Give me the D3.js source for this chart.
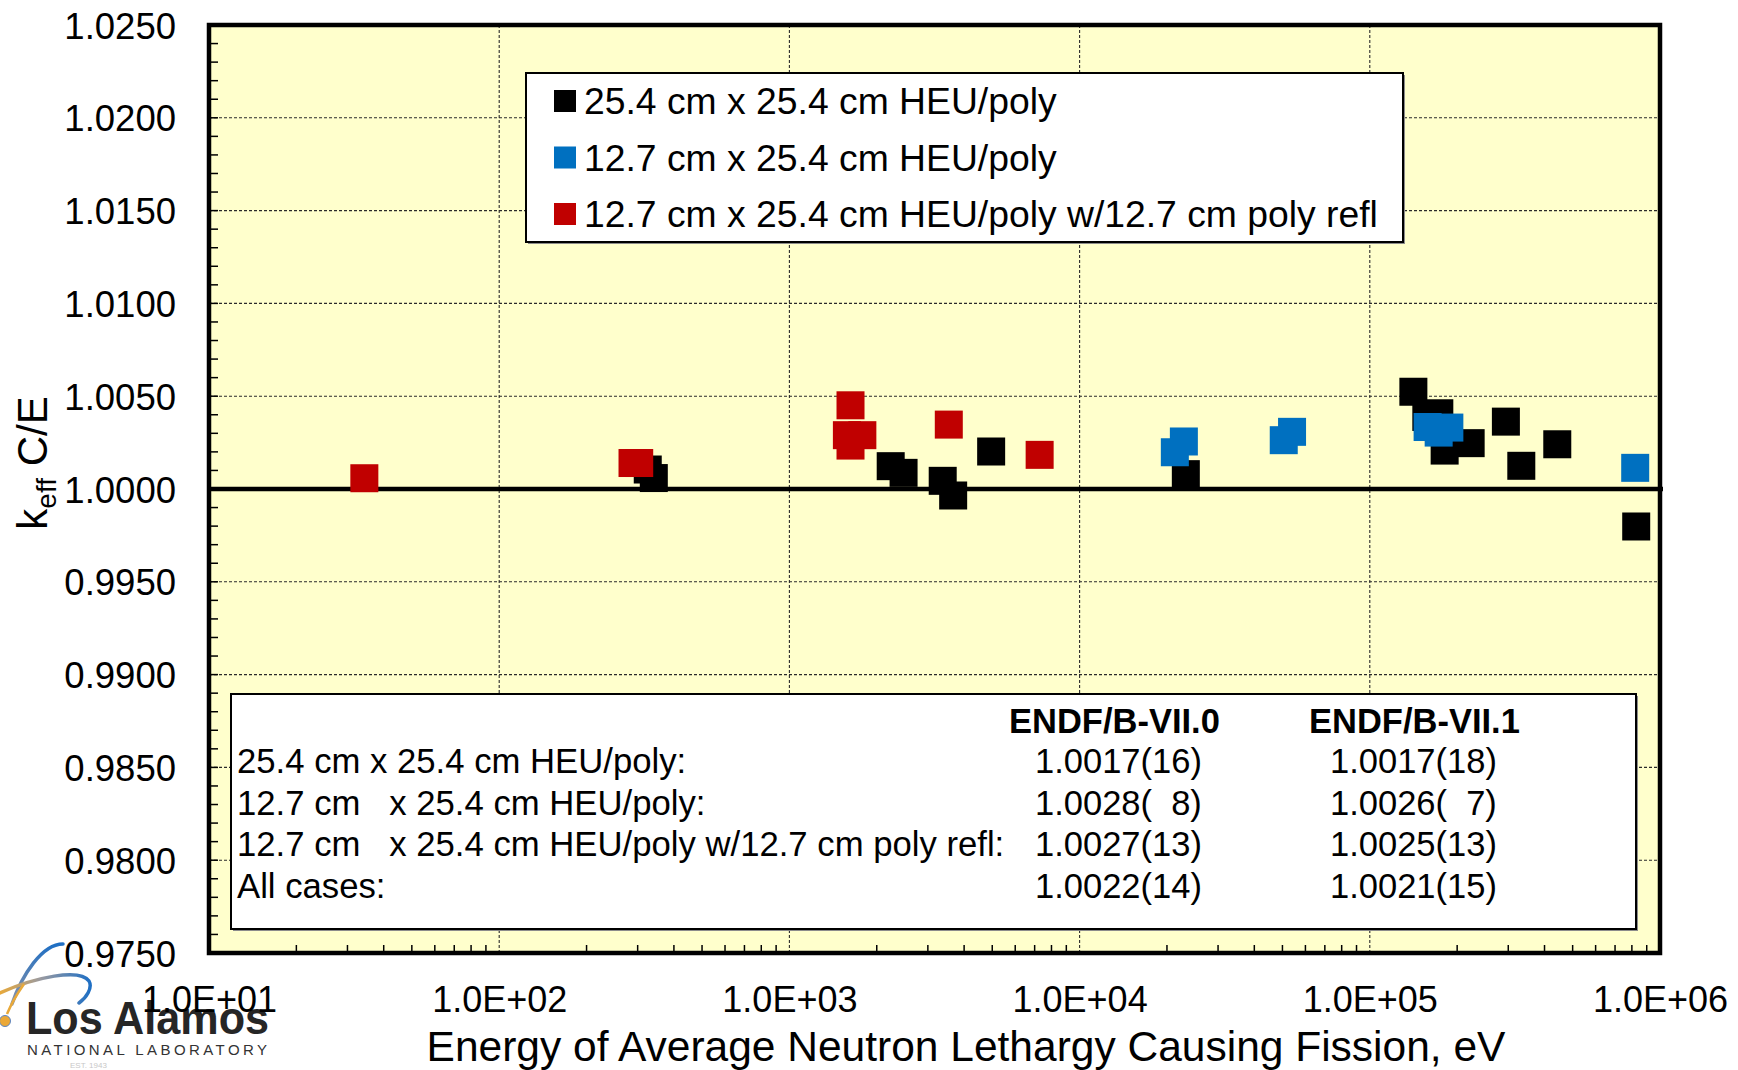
<!DOCTYPE html>
<html>
<head>
<meta charset="utf-8">
<script src="https://cdn.jsdelivr.net/npm/d3@7"></script>
<style>
  html, body { margin: 0; padding: 0; background: #ffffff; }
  svg { display: block; font-family: "Liberation Sans", Arial, Helvetica, sans-serif; }
  .pre { white-space: pre; }
</style>
</head>
<body>
<svg id="chart" width="1738" height="1070"></svg>
<script>
// ---- Benchmark results: energy of average lethargy causing fission (eV) vs k_eff C/E ----
const heu254E = [325, 341, 2234, 2474, 3375, 3667, 4957, 23230, 141300, 173600, 156600,
                 222600, 181100, 294400, 332700, 442600, 828000];
const heu254K = [1.00105, 1.00059, 1.00123, 1.00087, 1.00044, 0.99965, 1.00202, 1.00080, 1.00524,
                 1.00408, 1.00388, 1.00247, 1.00207, 1.00363, 1.00125, 1.00241, 0.99798];

const heu127E = [22870, 21290, 53960, 50520, 158200, 172700, 188000, 821400];
const heu127K = [1.00256, 1.00198, 1.00308, 1.00263, 1.00334, 1.00304, 1.00331, 1.00114];

const heu127ReflE = [34.3, 288, 303.7, 1624, 1578, 1784, 1624, 3542, 7283];
const heu127ReflK = [1.00058, 1.00140, 1.00140, 1.00451, 1.00290, 1.00290, 1.00234, 1.00347, 1.00184];

const seriesNames = [
  "25.4 cm x 25.4 cm HEU/poly",
  "12.7 cm x 25.4 cm HEU/poly",
  "12.7 cm x 25.4 cm HEU/poly w/12.7 cm poly refl"
];
const seriesColors = ["#000000", "#0070C0", "#C00000"];

const xTickValues = [1e1, 1e2, 1e3, 1e4, 1e5, 1e6];
const xTickLabels = ["1.0E+01", "1.0E+02", "1.0E+03", "1.0E+04", "1.0E+05", "1.0E+06"];
const yTickValues = [0.9750, 0.9800, 0.9850, 0.9900, 0.9950, 1.0000, 1.0050, 1.0100, 1.0150, 1.0200, 1.0250];
const yTickLabels = ["0.9750", "0.9800", "0.9850", "0.9900", "0.9950", "1.0000", "1.0050", "1.0100", "1.0150", "1.0200", "1.0250"];

// Summary table of average C/E per group
const statsHeaders = ["ENDF/B-VII.0", "ENDF/B-VII.1"];
const statsRows = [
  "25.4 cm x 25.4 cm HEU/poly:",
  "12.7 cm   x 25.4 cm HEU/poly:",
  "12.7 cm   x 25.4 cm HEU/poly w/12.7 cm poly refl:",
  "All cases:"
];
const statsVII0 = ["1.0017(16)", "1.0028(  8)", "1.0027(13)", "1.0022(14)"];
const statsVII1 = ["1.0017(18)", "1.0026(  7)", "1.0025(13)", "1.0021(15)"];

// ---- layout ----
const P = { left: 209, right: 1660, top: 25, bottom: 953 };
const svg = d3.select("#chart");

const x = d3.scaleLog().domain([1e1, 1e6]).range([P.left, P.right]);
const y = d3.scaleLinear().domain([0.975, 1.025]).range([P.bottom, P.top]);

// ---- laboratory logo, bottom left ----
const logo = svg.append("g");
const defs = svg.append("defs");
const grad = defs.append("linearGradient").attr("id", "orbitGrad")
  .attr("x1", "0%").attr("x2", "100%").attr("y1", "0%").attr("y2", "0%");
grad.append("stop").attr("offset", "0%").attr("stop-color", "#E8A93A");
grad.append("stop").attr("offset", "45%").attr("stop-color", "#9A9AA0");
grad.append("stop").attr("offset", "100%").attr("stop-color", "#1F6FC4");
const grad2 = defs.append("linearGradient").attr("id", "orbitGrad2")
  .attr("x1", "0%").attr("x2", "0%").attr("y1", "0%").attr("y2", "100%");
grad2.append("stop").attr("offset", "0%").attr("stop-color", "#1F6FC4");
grad2.append("stop").attr("offset", "100%").attr("stop-color", "#8A93A8");

logo.append("path")
  .attr("d", "M 12 1004 C 22 975, 42 944, 63 944")
  .attr("fill", "none").attr("stroke", "url(#orbitGrad2)").attr("stroke-width", 3.5).attr("stroke-linecap", "round");
logo.append("path")
  .attr("d", "M 0 993 C 35 977, 80 968, 89 981 C 93 988, 86 998, 79 1003")
  .attr("fill", "none").attr("stroke", "url(#orbitGrad)").attr("stroke-width", 3.5).attr("stroke-linecap", "round");
logo.append("path")
  .attr("d", "M 7 1014 C 12 1002, 17 994, 24 984")
  .attr("fill", "none").attr("stroke", "#E8A93A").attr("stroke-width", 2.5);
logo.append("circle").attr("cx", 5).attr("cy", 1021).attr("r", 5.5)
  .attr("fill", "#EBA836").attr("stroke", "#5D86C2").attr("stroke-width", 1);
logo.append("text").attr("x", 26).attr("y", 1034)
  .attr("textLength", 243).attr("lengthAdjust", "spacingAndGlyphs")
  .style("font-size", "47px").style("font-weight", "bold").attr("fill", "#262626")
  .text("Los Alamos");
logo.append("text").attr("x", 27).attr("y", 1055)
  .attr("textLength", 240).attr("lengthAdjust", "spacing")
  .style("font-size", "15px").attr("fill", "#333333")
  .text("NATIONAL LABORATORY");
logo.append("text").attr("x", 70).attr("y", 1068)
  .style("font-size", "8px").attr("fill", "#C8C8C8")
  .text("EST. 1943");

// ---- plot area ----
svg.append("rect")
  .attr("x", P.left).attr("y", P.top)
  .attr("width", P.right - P.left).attr("height", P.bottom - P.top)
  .attr("fill", "#FFFFCC");

// dashed gridlines at decades and every 0.005
const grid = svg.append("g").attr("stroke", "#2a2a2a").attr("stroke-width", 1.1)
  .attr("stroke-dasharray", "3,2");
grid.selectAll("line.v").data(xTickValues.slice(1, -1)).join("line")
  .attr("x1", d => x(d)).attr("x2", d => x(d))
  .attr("y1", P.top).attr("y2", P.bottom);
grid.selectAll("line.h").data(yTickValues.slice(1, -1)).join("line")
  .attr("x1", P.left).attr("x2", P.right)
  .attr("y1", d => y(d)).attr("y2", d => y(d));

// minor tick marks, pointing into the plot
const minorY = d3.range(0, 51).map(i => 0.975 + i * 0.001);
svg.append("g").attr("stroke", "#000").attr("stroke-width", 1.5)
  .selectAll("line").data(minorY).join("line")
  .attr("x1", P.left).attr("x2", P.left + 9)
  .attr("y1", d => y(d)).attr("y2", d => y(d));
const minorX = x.ticks().filter(d => !xTickValues.includes(d));
svg.append("g").attr("stroke", "#000").attr("stroke-width", 1.5)
  .selectAll("line").data(minorX).join("line")
  .attr("x1", d => x(d)).attr("x2", d => x(d))
  .attr("y1", P.bottom).attr("y2", P.bottom - 8);

// ---- legend box ----
const L = { x: 526, y: 73, w: 877, h: 169 };
svg.append("rect").attr("x", L.x + 2).attr("y", L.y + 2).attr("width", L.w).attr("height", L.h)
  .attr("fill", "#8c8c8c");
svg.append("rect").attr("x", L.x).attr("y", L.y).attr("width", L.w).attr("height", L.h)
  .attr("fill", "#ffffff").attr("stroke", "#000").attr("stroke-width", 2);

// ---- summary table box ----
const S = { x: 231, y: 694, w: 1405, h: 235 };
svg.append("rect").attr("x", S.x + 2).attr("y", S.y + 2).attr("width", S.w).attr("height", S.h)
  .attr("fill", "#8c8c8c");
svg.append("rect").attr("x", S.x).attr("y", S.y).attr("width", S.w).attr("height", S.h)
  .attr("fill", "#ffffff").attr("stroke", "#000").attr("stroke-width", 2);

// unity reference line
svg.append("line")
  .attr("x1", P.left).attr("x2", P.right + 3)
  .attr("y1", y(1.0)).attr("y2", y(1.0))
  .attr("stroke", "#000").attr("stroke-width", 4.5);

// ---- data points (square markers) ----
const series = [
  { e: heu254E, k: heu254K },
  { e: heu127E, k: heu127K },
  { e: heu127ReflE, k: heu127ReflK }
];
const MS = 28;
series.forEach((s, i) => {
  const pts = s.e.map((e, j) => ({ e, k: s.k[j] }));
  svg.append("g").selectAll("rect").data(pts).join("rect")
    .attr("x", d => x(d.e) - MS / 2).attr("y", d => y(d.k) - MS / 2)
    .attr("width", MS).attr("height", MS)
    .attr("fill", seriesColors[i]);
});

// ---- frame ----
svg.append("rect")
  .attr("x", P.left).attr("y", P.top)
  .attr("width", P.right - P.left).attr("height", P.bottom - P.top)
  .attr("fill", "none").attr("stroke", "#000").attr("stroke-width", 4.5);

// ---- axes labels ----
const xAxis = d3.axisBottom(x).tickValues(xTickValues)
  .tickFormat((d, i) => xTickLabels[i]).tickSize(0);
const gx = svg.append("g").attr("transform", `translate(0,${P.bottom})`).call(xAxis);
gx.select(".domain").remove();
gx.selectAll("text").attr("y", 58.5).attr("dy", null)
  .style("font-size", "36px").style("font-family", "'Liberation Sans', Arial, sans-serif").attr("fill", "#000");

const yAxis = d3.axisLeft(y).tickValues(yTickValues)
  .tickFormat((d, i) => yTickLabels[i]).tickSize(0);
const gy = svg.append("g").attr("transform", `translate(${P.left},0)`).call(yAxis);
gy.select(".domain").remove();
gy.selectAll("text").attr("x", -33).attr("dy", "0.36em")
  .style("font-size", "36.5px").style("font-family", "'Liberation Sans', Arial, sans-serif").attr("fill", "#000");

// axis titles
svg.append("text").attr("x", 966).attr("y", 1061).attr("text-anchor", "middle")
  .style("font-size", "42.5px").text("Energy of Average Neutron Lethargy Causing Fission, eV");

const yt = svg.append("text").attr("transform", "translate(47,463) rotate(-90)")
  .attr("text-anchor", "middle").style("font-size", "42px");
yt.append("tspan").text("k");
yt.append("tspan").attr("dy", 9).style("font-size", "28px").text("eff");
yt.append("tspan").attr("dy", -9).text(" C/E");

// ---- legend entries ----
const legendRowY = [101, 157.5, 214];
seriesNames.forEach((name, i) => {
  svg.append("rect").attr("x", 554).attr("y", legendRowY[i] - 11)
    .attr("width", 22).attr("height", 22).attr("fill", seriesColors[i]);
  svg.append("text").attr("x", 584).attr("y", legendRowY[i] + 13.2)
    .style("font-size", "37.3px").text(name);
});

// ---- summary table text ----
const colX = [1009, 1309];
const valX = [1035, 1330];
const headerBase = 733;
const rowBase = [773, 814.6, 856.2, 897.8];
statsHeaders.forEach((h, i) => {
  svg.append("text").attr("x", colX[i]).attr("y", headerBase)
    .style("font-size", "34.5px").style("font-weight", "bold").text(h);
});
statsRows.forEach((r, i) => {
  svg.append("text").attr("class", "pre").attr("x", 237).attr("y", rowBase[i])
    .style("font-size", "34.7px").text(r);
  svg.append("text").attr("class", "pre").attr("x", valX[0]).attr("y", rowBase[i])
    .style("font-size", "34.5px").text(statsVII0[i]);
  svg.append("text").attr("class", "pre").attr("x", valX[1]).attr("y", rowBase[i])
    .style("font-size", "34.5px").text(statsVII1[i]);
});
</script>
</body>
</html>
